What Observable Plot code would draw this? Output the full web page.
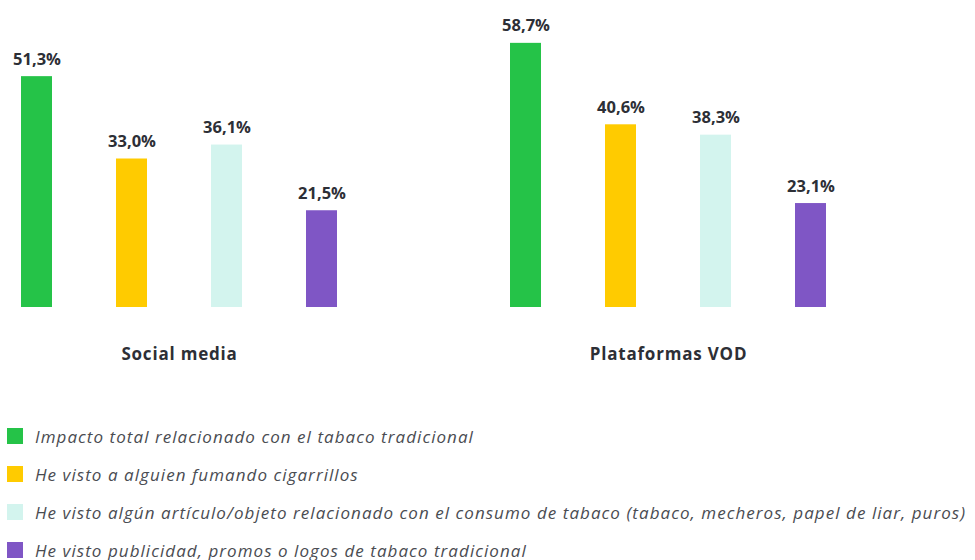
<!DOCTYPE html>
<html>
<head>
<meta charset="utf-8">
<script src="https://cdn.jsdelivr.net/npm/d3@7"></script>
<script src="https://cdn.jsdelivr.net/npm/@observablehq/plot@0.6"></script>
<style>
  body { margin: 0; background: #fff; font-family: "Open Sans", sans-serif; }
  #legend { margin-top: 37px; }
  .item { display: flex; align-items: center; height: 38px; white-space: nowrap; }
  .sw { width: 16px; height: 16px; margin-left: 7px; margin-right: 12px; flex: none; }
  .lab { font-style: italic; font-size: 17px; letter-spacing: 1.05px; color: #4a4c52; }
</style>
</head>
<body>
<div id="chart"></div>
<div id="legend"></div>
<script>
const groups = ["Social media", "Plataformas VOD"];
const series = [
  "Impacto total relacionado con el tabaco tradicional",
  "He visto a alguien fumando cigarrillos",
  "He visto algún artículo/objeto relacionado con el consumo de tabaco (tabaco, mecheros, papel de liar, puros)",
  "He visto publicidad, promos o logos de tabaco tradicional"
];
const colors = ["#25c348", "#ffcb00", "#d3f4ee", "#7f56c5"];
const socialMedia = [51.3, 33.0, 36.1, 21.5];
const plataformasVOD = [58.7, 40.6, 38.3, 23.1];

const data = [];
[socialMedia, plataformasVOD].forEach((vals, gi) => {
  vals.forEach((v, si) => data.push({group: groups[gi], serie: series[si], value: v}));
});
const fmt = v => v.toFixed(1).replace(".", ",") + "%";

const chart = Plot.plot({
  width: 975,
  height: 380,
  marginTop: 37,
  marginBottom: 73,
  marginLeft: 21,
  marginRight: 149,
  style: {fontFamily: "'Open Sans', sans-serif", color: "#2d2f36"},
  fx: {domain: groups, padding: 0.354, label: null, axis: "bottom", tickSize: 0, tickPadding: 40},
  x: {domain: series, paddingInner: 0.674, paddingOuter: 0, axis: null},
  y: {domain: [0, 60], axis: null},
  color: {domain: series, range: colors},
  marks: [
    Plot.barY(data, {fx: "group", x: "serie", y: "value", fill: "serie"}),
    Plot.text(data, {fx: "group", x: "serie", y: "value", text: d => fmt(d.value), dy: -12, lineAnchor: "bottom", fontWeight: "bold", fontSize: 16.5, fill: "#2d2f36"})
  ]
});
const ax = chart.querySelector('[aria-label="fx-axis tick label"]');
if (ax) {
  ax.setAttribute("font-size", "17");
  ax.setAttribute("font-weight", "bold");
  ax.setAttribute("fill", "#2d2f36");
  ax.setAttribute("letter-spacing", "0.8");
}
document.getElementById("chart").appendChild(chart);

const legend = document.getElementById("legend");
series.forEach((s, i) => {
  const row = document.createElement("div");
  row.className = "item";
  const sw = document.createElement("span");
  sw.className = "sw";
  sw.style.background = colors[i];
  const lab = document.createElement("span");
  lab.className = "lab";
  lab.textContent = s;
  row.appendChild(sw); row.appendChild(lab);
  legend.appendChild(row);
});
</script>
</body>
</html>
